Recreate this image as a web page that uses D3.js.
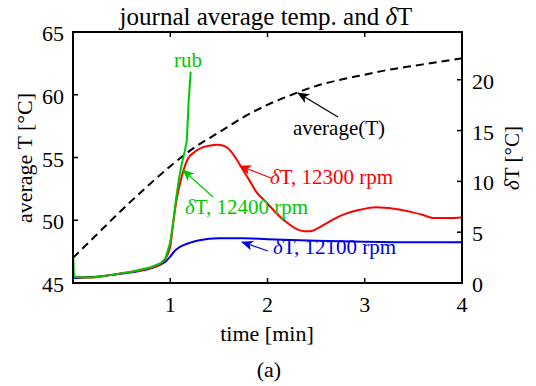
<!DOCTYPE html>
<html>
<head>
<meta charset="utf-8">
<script src="https://d3js.org/d3.v7.min.js"></script>
<style>
  body { margin: 0; background: #fff; }
</style>
</head>
<body>
<div id="chart"></div>
<script>
const width = 536, height = 386;
const margin = { top: 32, right: 74, bottom: 103, left: 73 };
const serif = "'Liberation Serif', 'Times New Roman', Times, serif";

// average(T), left axis [°C]
const avgTime = [0, 0.25, 0.5, 0.75, 1.0, 1.25, 1.5, 1.75, 2.0, 2.25, 2.5, 2.75, 3.0, 3.25, 3.5, 3.75, 4.0];
const avgTemp = [47.0, 48.9, 50.8, 52.6, 54.3, 55.8, 57.0, 58.2, 59.2, 60.0, 60.7, 61.2, 61.6, 62.0, 62.3, 62.6, 62.9];

// dT at 12100 rpm, right axis
const blueTime = [0, 0.02, 0.2, 0.4, 0.6, 0.8, 0.9, 0.95, 1.0, 1.05, 1.1, 1.2, 1.3, 1.5, 1.75, 2.0, 2.5, 3.0, 3.5, 4.0];
const blueDT   = [0.6, 0.5, 0.6, 0.8, 1.05, 1.45, 1.8, 2.1, 2.6, 3.2, 3.55, 3.95, 4.2, 4.4, 4.4, 4.3, 4.15, 4.05, 4.0, 4.0];

// dT at 12300 rpm
const redTime = [0, 0.2, 0.4, 0.6, 0.8, 0.9, 0.95, 1.0, 1.03, 1.06, 1.1, 1.14, 1.18, 1.25, 1.32, 1.4, 1.48, 1.55, 1.61, 1.68, 1.75, 1.82, 1.89, 1.96, 2.03, 2.13, 2.22, 2.3, 2.38, 2.44, 2.52, 2.61, 2.75, 2.95, 3.12, 3.3, 3.47, 3.6, 3.7, 3.85, 4.0];
const redDT   = [0.6, 0.55, 0.8, 1.1, 1.5, 1.9, 2.4, 3.6, 5.9, 7.9, 9.8, 11.2, 12.2, 12.9, 13.3, 13.5, 13.6, 13.5, 13.1, 12.2, 11.1, 10.0, 8.9, 8.2, 7.5, 6.5, 5.8, 5.3, 5.1, 5.1, 5.4, 5.9, 6.6, 7.2, 7.45, 7.3, 7.0, 6.7, 6.4, 6.4, 6.45];

// dT at 12400 rpm (ends with rub)
const greenTime = [0, 0.01, 0.2, 0.4, 0.6, 0.8, 0.9, 0.95, 1.0, 1.03, 1.06, 1.09, 1.12, 1.15, 1.17, 1.18, 1.19, 1.21];
const greenDT   = [3.0, 0.6, 0.55, 0.8, 1.1, 1.55, 1.95, 2.4, 4.0, 6.0, 8.3, 10.3, 11.8, 13.0, 14.0, 16.0, 18.0, 20.8];

const xTicks = [1, 2, 3, 4];
const yLeftTicks = [45, 50, 55, 60, 65];
const yRightTicks = [0, 5, 10, 15, 20];

const svg = d3.select("#chart").append("svg")
  .attr("width", width).attr("height", height)
  .attr("font-family", serif);

const x = d3.scaleLinear().domain([0, 4]).range([margin.left, width - margin.right]);
const yL = d3.scaleLinear().domain([45, 65]).range([height - margin.bottom, margin.top]);
const yR = d3.scaleLinear().domain([0, 24.7]).range([height - margin.bottom, margin.top]);

const x0 = margin.left, x1 = width - margin.right;
const y0 = height - margin.bottom, y1 = margin.top;

// arrow marker
const defs = svg.append("defs");
function marker(id, color) {
  defs.append("marker")
    .attr("id", id)
    .attr("viewBox", "0 0 12 10")
    .attr("refX", 11).attr("refY", 5)
    .attr("markerWidth", 12).attr("markerHeight", 10)
    .attr("markerUnits", "userSpaceOnUse")
    .attr("orient", "auto")
    .append("path")
    .attr("d", "M0,0 L12,5 L0,10 L3,5 Z")
    .attr("fill", color);
}
marker("arK", "#000");
marker("arR", "#ff0000");
marker("arG", "#00c800");
marker("arB", "#0000e6");

// curves
const lineL = d3.line().x(d => x(d[0])).y(d => yL(d[1]));
const lineR = d3.line().x(d => x(d[0])).y(d => yR(d[1]));

svg.append("path")
  .datum(d3.zip(avgTime, avgTemp))
  .attr("d", lineL.curve(d3.curveMonotoneX))
  .attr("fill", "none").attr("stroke", "#000")
  .attr("stroke-width", 2).attr("stroke-dasharray", "8,5");

svg.append("path")
  .datum(d3.zip(blueTime, blueDT))
  .attr("d", lineR.curve(d3.curveMonotoneX))
  .attr("fill", "none").attr("stroke", "#0000e6").attr("stroke-width", 2);

svg.append("path")
  .datum(d3.zip(redTime, redDT))
  .attr("d", lineR.curve(d3.curveMonotoneX))
  .attr("fill", "none").attr("stroke", "#ff0000").attr("stroke-width", 2);

svg.append("path")
  .datum(d3.zip(greenTime, greenDT))
  .attr("d", lineR.curve(d3.curveLinear))
  .attr("fill", "none").attr("stroke", "#00c800").attr("stroke-width", 2);

// axes box
const axG = svg.append("g");
axG.append("rect")
  .attr("x", x0).attr("y", y1).attr("width", x1 - x0).attr("height", y0 - y1)
  .attr("fill", "none").attr("stroke", "#000").attr("stroke-width", 2);

const tickLen = 5, fs = 22;
xTicks.forEach(t => {
  axG.append("line").attr("x1", x(t)).attr("x2", x(t)).attr("y1", y0).attr("y2", y0 - tickLen)
    .attr("stroke", "#000").attr("stroke-width", 1.5);
  axG.append("line").attr("x1", x(t)).attr("x2", x(t)).attr("y1", y1).attr("y2", y1 + tickLen)
    .attr("stroke", "#000").attr("stroke-width", 1.5);
  axG.append("text").attr("x", x(t)).attr("y", y0 + 29)
    .attr("text-anchor", "middle").attr("font-size", fs).text(t);
});
yLeftTicks.forEach(v => {
  axG.append("line").attr("x1", x0).attr("x2", x0 + tickLen).attr("y1", yL(v)).attr("y2", yL(v))
    .attr("stroke", "#000").attr("stroke-width", 1.5);
  axG.append("text").attr("x", x0 - 9).attr("y", yL(v) + 9)
    .attr("text-anchor", "end").attr("font-size", fs).text(v);
});
yRightTicks.forEach(v => {
  axG.append("line").attr("x1", x1).attr("x2", x1 - tickLen).attr("y1", yR(v)).attr("y2", yR(v))
    .attr("stroke", "#000").attr("stroke-width", 1.5);
  axG.append("text").attr("x", x1 + 10).attr("y", yR(v) + 9)
    .attr("text-anchor", "start").attr("font-size", fs).text(v);
});

// titles and labels
svg.append("text").attr("x", 266).attr("y", 25)
  .attr("text-anchor", "middle").attr("font-size", 25)
  .html('journal average temp. and <tspan font-style="italic">δ</tspan>T');
svg.append("text").attr("transform", "translate(32,158) rotate(-90)")
  .attr("text-anchor", "middle").attr("font-size", 22).text("average T [°C]");
svg.append("text").attr("transform", "translate(519,158) rotate(-90)")
  .attr("text-anchor", "middle").attr("font-size", 21)
  .html('<tspan font-style="italic">δ</tspan>T [°C]');
svg.append("text").attr("x", 267).attr("y", 341)
  .attr("text-anchor", "middle").attr("font-size", 22).text("time [min]");
svg.append("text").attr("x", 269).attr("y", 377)
  .attr("text-anchor", "middle").attr("font-size", 22).text("(a)");

// annotations
function arrow(xa, ya, xb, yb, color, mk) {
  svg.append("line").attr("x1", xa).attr("y1", ya).attr("x2", xb).attr("y2", yb)
    .attr("stroke", color).attr("stroke-width", 1.2).attr("marker-end", `url(#${mk})`);
}
arrow(338, 117, 298, 93, "#000", "arK");
arrow(271, 178, 240, 166, "#ff0000", "arR");
arrow(213, 197, 183, 170, "#00c800", "arG");
arrow(268, 251, 242, 242, "#0000e6", "arB");

const afs = 21;
svg.append("text").attr("x", 339).attr("y", 135)
  .attr("text-anchor", "middle").attr("font-size", afs).attr("fill", "#000").text("average(T)");
svg.append("text").attr("x", 188).attr("y", 67)
  .attr("text-anchor", "middle").attr("font-size", afs).attr("fill", "#00c800").text("rub");
svg.append("text").attr("x", 270).attr("y", 184)
  .attr("font-size", afs).attr("fill", "#ff0000")
  .html('<tspan font-style="italic">δ</tspan>T, 12300 rpm');
svg.append("text").attr("x", 185).attr("y", 214)
  .attr("font-size", afs).attr("fill", "#00c800")
  .html('<tspan font-style="italic">δ</tspan>T, 12400 rpm');
svg.append("text").attr("x", 273).attr("y", 254)
  .attr("font-size", afs).attr("fill", "#0000e6")
  .html('<tspan font-style="italic">δ</tspan>T, 12100 rpm');
</script>
</body>
</html>
